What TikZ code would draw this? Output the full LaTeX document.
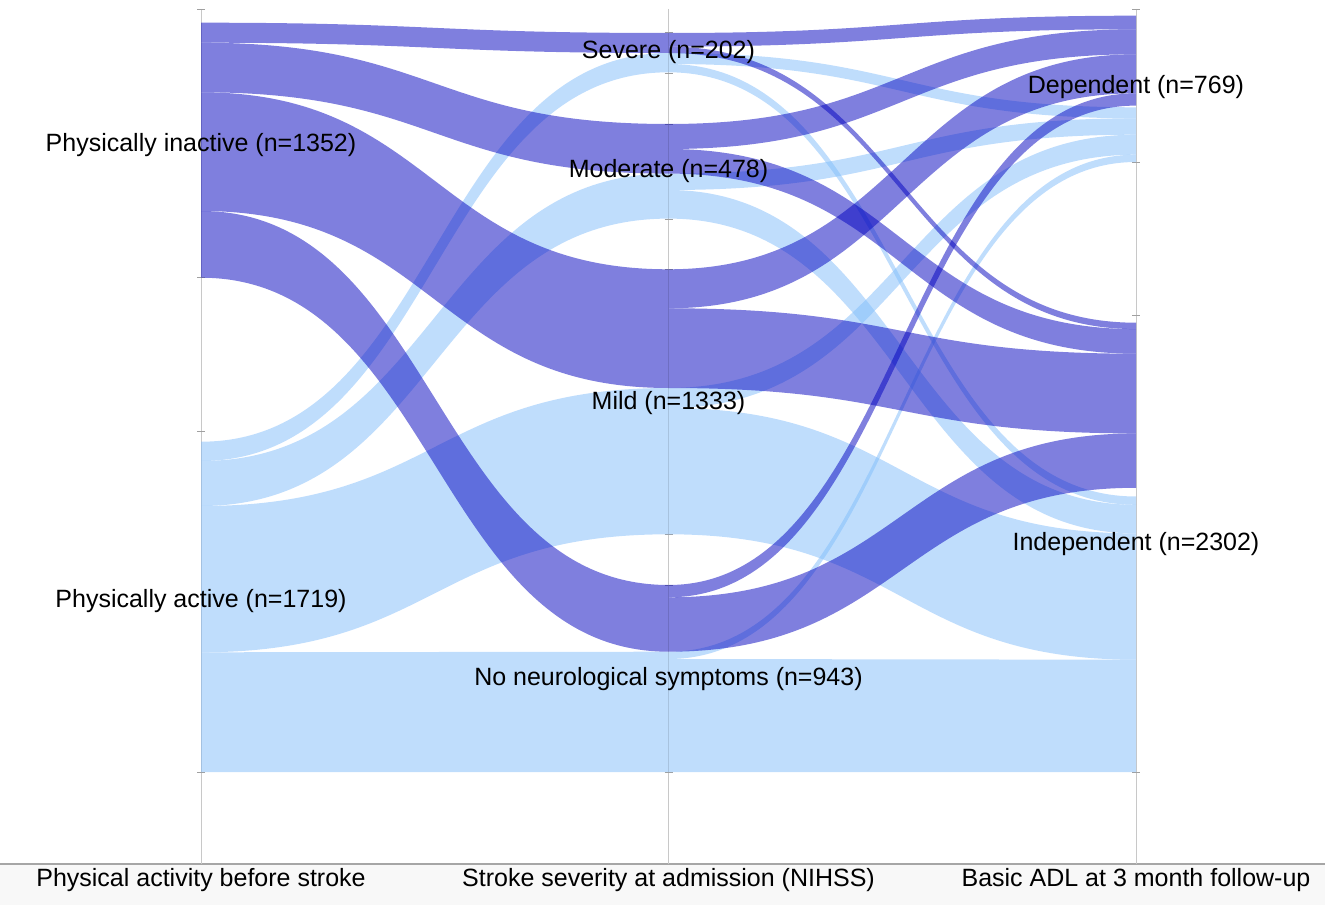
\documentclass[tikz,border=0pt]{standalone}
\usepackage{fontspec}
\setmainfont{Liberation Sans}
\definecolor{inactc}{RGB}{0,0,190}
\definecolor{actc}{RGB}{128,188,250}
\definecolor{axisc}{RGB}{200,200,200}
\definecolor{bandc}{RGB}{248,248,248}
\tikzset{
  darkflow/.style={fill=inactc, fill opacity=0.5},
  lightflow/.style={fill=actc, fill opacity=0.5},
  axisline/.style={draw=axisc, line width=1pt},
  tickmark/.style={draw=axisc!80!black, line width=0.8pt},
  lbl/.style={font=\fontsize{25}{30}\selectfont, text=black, inner sep=0pt, anchor=center},
}
\newcommand\colA{201}
\newcommand\colB{668.5}
\newcommand\colC{1136}
% #1 style, #2 x0, #3 x1, #4 top0, #5 bottom0, #6 top1, #7 bottom1
\newcommand\flowband[7]{%
  \pgfmathsetmacro\fxm{(#2+#3)/2}%
  \fill[#1] (#2,#4) .. controls (\fxm,#4) and (\fxm,#6) .. (#3,#6) -- (#3,#7) .. controls (\fxm,#7) and (\fxm,#5) .. (#2,#5) -- cycle;}
\begin{document}
\begin{tikzpicture}[x=1pt,y=-1pt]
\useasboundingbox (0,0) rectangle (1325,912);
% bottom axis band
\fill[bandc] (0,864) rectangle (1325,905);
\draw[draw=gray!70, line width=1.2pt] (0,864) -- (1325,864);
% vertical axes
\foreach \cx in {\colA,\colB,\colC} \draw[axisline] (\cx,9) -- (\cx,864);
% ticks
\foreach \ty in {9.3,277.7,431,772} \draw[tickmark] (\colA-4,\ty) -- (\colA+4,\ty);
\foreach \ty in {32.7,73.3,124,219.3,269.3,534,585,772} \draw[tickmark] (\colB-4,\ty) -- (\colB+4,\ty);
\foreach \ty in {9.3,162.3,315,772} \draw[tickmark] (\colC-4,\ty) -- (\colC+4,\ty);
% first transition: light (active)
\flowband{lightflow}{\colA}{\colB}{441.7}{461}{53}{72.3}
\flowband{lightflow}{\colA}{\colB}{461}{506}{173.6}{218.6}
\flowband{lightflow}{\colA}{\colB}{506}{652.3}{388}{534.3}
\flowband{lightflow}{\colA}{\colB}{652.3}{772}{651.7}{772}
% second transition: light
\flowband{lightflow}{\colB}{\colC}{53}{64}{107.3}{118.3}
\flowband{lightflow}{\colB}{\colC}{64}{72.3}{496.5}{504.8}
\flowband{lightflow}{\colB}{\colC}{173.6}{190}{118.3}{134.7}
\flowband{lightflow}{\colB}{\colC}{190}{218.6}{504.8}{533.4}
\flowband{lightflow}{\colB}{\colC}{388}{408}{134.7}{154.7}
\flowband{lightflow}{\colB}{\colC}{408}{534.3}{533.4}{659.7}
\flowband{lightflow}{\colB}{\colC}{651.7}{659}{154.7}{162}
\flowband{lightflow}{\colB}{\colC}{659}{772}{659.7}{772}
% first transition: dark (inactive)
\flowband{darkflow}{\colA}{\colB}{22.7}{42.7}{33}{53}
\flowband{darkflow}{\colA}{\colB}{42.7}{92.3}{124}{173.6}
\flowband{darkflow}{\colA}{\colB}{92.3}{211}{269.3}{388}
\flowband{darkflow}{\colA}{\colB}{211}{277.7}{585}{651.7}
% second transition: dark
\flowband{darkflow}{\colB}{\colC}{33}{46.6}{15.7}{29.3}
\flowband{darkflow}{\colB}{\colC}{46.6}{53}{322.7}{329.1}
\flowband{darkflow}{\colB}{\colC}{124}{149}{29.3}{54.3}
\flowband{darkflow}{\colB}{\colC}{149}{173.6}{329.1}{353.7}
\flowband{darkflow}{\colB}{\colC}{269.3}{308.3}{54.3}{93.3}
\flowband{darkflow}{\colB}{\colC}{308.3}{388}{353.7}{433.4}
\flowband{darkflow}{\colB}{\colC}{585}{597.3}{93.3}{105.6}
\flowband{darkflow}{\colB}{\colC}{597.3}{651.7}{433.4}{487.8}
% node labels
\node[lbl] (inact) at (\colA,145) {Physically inactive (n=1352)};
\node[lbl] (act) at (\colA,601) {Physically active (n=1719)};
\node[lbl] (sev) at (\colB,52) {Severe (n=202)};
\node[lbl] (mod) at (\colB,171) {Moderate (n=478)};
\node[lbl] (mild) at (\colB,403) {Mild (n=1333)};
\node[lbl] (none) at (\colB,679) {No neurological symptoms (n=943)};
\node[lbl] (dep) at (\colC,87) {Dependent (n=769)};
\node[lbl] (ind) at (\colC,544) {Independent (n=2302)};
% axis labels
\node[lbl] (axA) at (\colA,880) {Physical activity before stroke};
\node[lbl] (axB) at (\colB,880) {Stroke severity at admission (NIHSS)};
\node[lbl] (axC) at (\colC,880) {Basic ADL at 3 month follow-up};
\end{tikzpicture}
\end{document}
